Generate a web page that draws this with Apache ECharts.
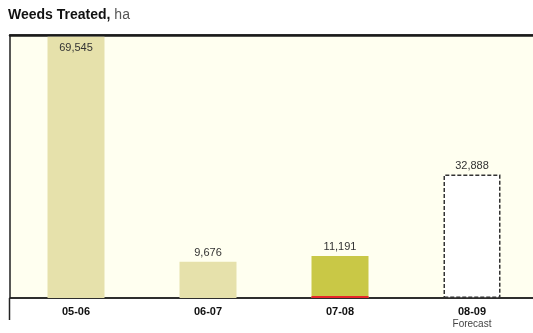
<!DOCTYPE html>
<html>
<head>
<meta charset="utf-8">
<script src="https://cdn.jsdelivr.net/npm/echarts@6/dist/echarts.min.js"></script>
<style>
  html, body { margin: 0; padding: 0; background: #ffffff; }
  #chart { width: 533px; height: 333px; }
</style>
</head>
<body>
<div id="chart"></div>
<script>
// Hectares of weeds treated per season
const seasons = ['05-06', '06-07', '07-08', '08-09'];
const treated = [69545, 9676, 11191, 32888];
const forecastSeason = '08-09';
// small highlighted portion at the base of the 07-08 bar
const highlighted = [null, null, 500, null];

const fmt = v => v.toLocaleString('en-US');
const FONT = 'Liberation Sans, Arial, Helvetica, sans-serif';

const barColors = ['#e6e1ab', '#e6e1ab', '#c9c846', '#ffffff'];

const chart = echarts.init(document.getElementById('chart'));
chart.setOption({
  animation: false,
  textStyle: { fontFamily: FONT },
  title: {
    text: '{b|Weeds Treated,}{n| ha}',
    left: 3,
    top: 3,
    textStyle: {
      fontWeight: 'normal',
      rich: {
        b: { fontFamily: FONT, fontSize: 14, fontWeight: 'bold', color: '#111' },
        n: { fontFamily: FONT, fontSize: 14, fontWeight: 'normal', color: '#555' }
      }
    }
  },
  grid: {
    left: 10, width: 528, top: 35, bottom: 35,
    outerBoundsMode: 'none',
    show: true,
    backgroundColor: '#fffff0',
    borderColor: '#222',
    borderWidth: 1.5
  },
  xAxis: [{
    type: 'category',
    data: seasons,
    axisLine: { lineStyle: { color: '#222', width: 1.5 } },
    axisTick: { show: false },
    axisLabel: {
      margin: 7,
      formatter: v => v === forecastSeason ? '{c|' + v + '}\n{f|Forecast}' : '{c|' + v + '}',
      rich: {
        c: { fontFamily: FONT, fontSize: 11, fontWeight: 'bold', color: '#111', lineHeight: 13 },
        f: { fontFamily: FONT, fontSize: 10, color: '#444', lineHeight: 13 }
      }
    }
  }, {
    type: 'category',
    data: seasons,
    position: 'top',
    axisLine: { lineStyle: { color: '#1a1a1a', width: 2.5 } },
    axisTick: { show: false },
    axisLabel: { show: false }
  }],
  yAxis: {
    type: 'value',
    min: 0,
    max: 70000,
    show: false,
    splitLine: { show: false }
  },
  graphic: [{
    type: 'line',
    shape: { x1: 9.5, y1: 298, x2: 9.5, y2: 320 },
    style: { stroke: '#222', lineWidth: 1.5 }
  }],
  series: [
    {
      type: 'bar',
      barWidth: 57,
      data: treated.map((v, i) => ({
        value: v,
        itemStyle: i === 3
          ? { color: '#ffffff', borderColor: '#333', borderWidth: 1.5, borderType: [4, 2] }
          : { color: barColors[i] },
        label: i === 0 ? { position: 'insideTop', distance: 6 } : { position: 'top', distance: 3 }
      })),
      label: {
        show: true,
        fontFamily: FONT,
        fontSize: 11,
        color: '#333',
        formatter: p => fmt(p.value)
      },
      z: 2
    },
    {
      type: 'bar',
      barWidth: 57,
      barGap: '-100%',
      data: highlighted,
      itemStyle: { color: '#e8262a' },
      z: 3
    }
  ]
});
</script>
</body>
</html>
